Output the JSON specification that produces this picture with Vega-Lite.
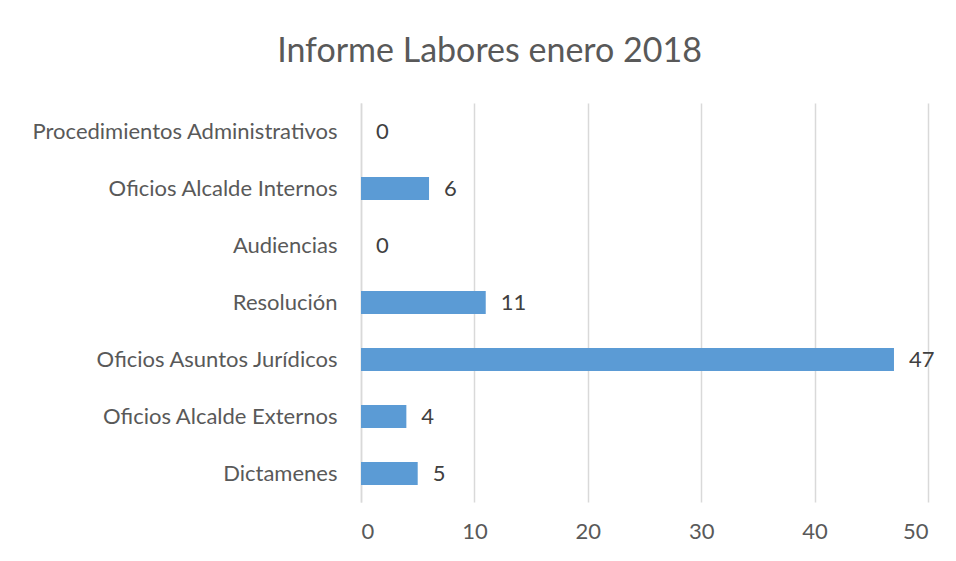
{
  "$schema": "https://vega.github.io/schema/vega-lite/v6.json",
  "autosize": "none",
  "width": 567,
  "height": 399,
  "padding": {"left": 361, "top": 103, "right": 28, "bottom": 59},
  "background": "white",
  "title": {
    "text": "Informe Labores enero 2018",
    "font": "Lato",
    "fontSize": 34,
    "fontWeight": "normal",
    "color": "#595959",
    "anchor": "middle",
    "dx": -155,
    "offset": 34
  },
  "config": {"view": {"stroke": null}},
  "data": {
    "values": [
      {"categoria": "Procedimientos Administrativos", "valor": 0},
      {"categoria": "Oficios Alcalde Internos", "valor": 6},
      {"categoria": "Audiencias", "valor": 0},
      {"categoria": "Resolución", "valor": 11},
      {"categoria": "Oficios Asuntos Jurídicos", "valor": 47},
      {"categoria": "Oficios Alcalde Externos", "valor": 4},
      {"categoria": "Dictamenes", "valor": 5}
    ]
  },
  "encoding": {
    "y": {
      "field": "categoria",
      "type": "nominal",
      "sort": null,
      "scale": {"paddingInner": 0.6, "paddingOuter": 0.3},
      "axis": {
        "title": null,
        "ticks": false,
        "domain": true,
        "domainColor": "#d9d9d9",
        "domainWidth": 1.5,
        "labelFont": "Lato",
        "labelFontSize": 22,
        "labelColor": "#595959",
        "labelPadding": 24,
        "labelLimit": 400
      }
    },
    "x": {
      "field": "valor",
      "type": "quantitative",
      "scale": {"domain": [0, 50], "nice": false},
      "axis": {
        "title": null,
        "values": [0, 10, 20, 30, 40, 50],
        "ticks": false,
        "domain": false,
        "grid": true,
        "gridColor": "#d9d9d9",
        "gridWidth": 1.5,
        "labelFont": "Lato",
        "labelFontSize": 22,
        "labelColor": "#595959",
        "labelPadding": 19
      }
    }
  },
  "layer": [
    {"mark": {"type": "bar", "color": "#5b9bd5"}},
    {
      "mark": {"type": "text", "align": "left", "baseline": "middle", "dx": 15, "font": "Lato", "fontSize": 22, "color": "#404040"},
      "encoding": {"text": {"field": "valor", "type": "quantitative"}}
    }
  ]
}
